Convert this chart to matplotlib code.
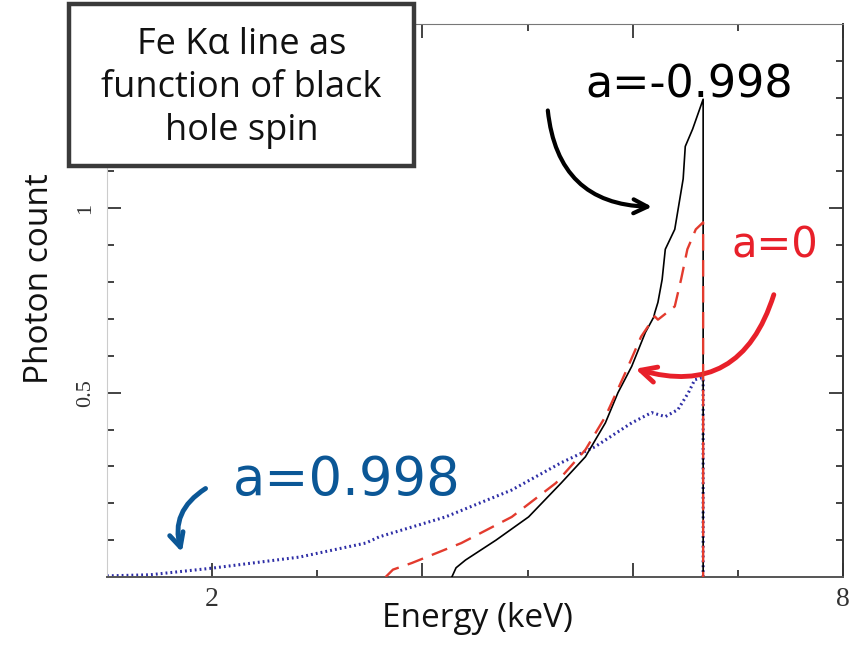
import matplotlib.pyplot as plt
from matplotlib.patches import Rectangle

# a = -0.998 (retrograde), black solid
e_retro = [4.28, 4.32, 4.41, 4.70, 5.01, 5.32, 5.55, 5.74, 5.86, 5.99, 6.12, 6.20, 6.21,
           6.24, 6.28, 6.31, 6.40, 6.48, 6.50, 6.57, 6.67, 6.67]
c_retro = [0.0, 0.025, 0.046, 0.10, 0.163, 0.255, 0.326, 0.418, 0.50, 0.571, 0.663, 0.705, 0.717,
           0.745, 0.807, 0.889, 0.943, 1.08, 1.168, 1.215, 1.296, 0.0]

# a = 0, red dashed
e_zero = [3.65, 3.72, 3.90, 4.37, 4.85, 5.27, 5.55, 5.74, 5.93, 6.08, 6.21, 6.24, 6.40,
          6.46, 6.52, 6.60, 6.67, 6.67]
c_zero = [0.0, 0.02, 0.038, 0.092, 0.163, 0.255, 0.345, 0.435, 0.554, 0.652, 0.707, 0.698, 0.734,
          0.807, 0.889, 0.943, 0.962, 0.0]

# a = 0.998 (maximal prograde), blue dotted
e_max = [1.0, 1.41, 2.0, 2.83, 3.46, 3.59, 4.22, 4.85, 5.32, 5.64, 5.99, 6.18,
         6.31, 6.43, 6.53, 6.59, 6.65, 6.67, 6.67]
c_max = [0.003, 0.006, 0.024, 0.054, 0.092, 0.109, 0.163, 0.236, 0.31, 0.353, 0.418, 0.446,
         0.435, 0.454, 0.50, 0.535, 0.54, 0.54, 0.0]

x_ticks = [2, 4, 6, 8]
x_tick_labels = ['2', '', '', '8']
y_ticks = [0.5, 1.0]
y_tick_labels = ['0.5', '1']

fig = plt.figure(figsize=(8.67, 6.53), dpi=100)
ax = fig.add_axes([0.1234, 0.1164, 0.8489, 0.8468])

ax.plot(e_retro, c_retro, color='black', lw=1.2, zorder=3)
ax.plot(e_zero, c_zero, color='#e33b2e', lw=1.7, linestyle=(0, (7, 4)), zorder=4)
ax.plot(e_max, c_max, color='#2e2ea6', lw=2.2, linestyle=(0, (0.6, 1.0)), zorder=2)

ax.set_xlim(1, 8)
ax.set_ylim(0, 1.5)

ax.set_xticks(x_ticks)
ax.set_xticks([3, 5, 7], minor=True)
ax.set_yticks(y_ticks)
ax.set_yticks([0.1 * i for i in range(1, 15)], minor=True)
ax.tick_params(axis='both', which='major', direction='in', length=10, width=1.2,
               top=True, right=True, color='#222222', labelbottom=False, labelleft=False)
ax.tick_params(axis='both', which='minor', direction='in', length=5, width=1.2,
               top=True, right=True, color='#222222')

# tick labels written next to the axis
for xv, lab in zip(x_ticks, x_tick_labels):
    ax.text(xv, -0.018, lab, transform=ax.get_xaxis_transform(), ha='center', va='top',
            fontsize=20, family='Liberation Serif', color='#333333')
for yv, lab in zip(y_ticks, y_tick_labels):
    ax.text(-0.016, yv, lab, transform=ax.get_yaxis_transform(), ha='right', va='center',
            rotation=90, fontsize=16, family='Liberation Serif', color='#333333')

ax.spines['left'].set_color('#cccccc')
ax.spines['bottom'].set_color('#555555')
ax.spines['bottom'].set_linewidth(1.4)
ax.spines['top'].set_color('#777777')
ax.spines['right'].set_color('#333333')
ax.spines['right'].set_linewidth(1.4)

ax.set_ylabel('Photon count', family='Open Sans', fontsize=24, color='#111111')
ax.yaxis.set_label_coords(-0.069, 0.54)
ax.set_xlabel('Energy (keV)', family='Open Sans', fontsize=24, color='#111111')
ax.xaxis.set_label_coords(0.503, -0.045)

# hand-written style annotations
ax.text(6.54, 1.335, 'a=-0.998', color='black', fontsize=32, ha='center', va='center',
        family='DejaVu Sans')
ax.annotate('', xy=(6.21, 1.004), xytext=(5.19, 1.273),
            arrowprops=dict(arrowstyle='->', lw=3, color='black', mutation_scale=25,
                            connectionstyle='arc3,rad=0.45'))
ax.text(7.35, 0.90, 'a=0', color='#e8202a', fontsize=30, ha='center', va='center',
        family='DejaVu Sans')
ax.annotate('', xy=(6.0, 0.567), xytext=(7.35, 0.773),
            arrowprops=dict(arrowstyle='->', lw=3.5, color='#e8202a', mutation_scale=28,
                            connectionstyle='arc3,rad=-0.5'))
ax.text(3.28, 0.263, 'a=0.998', color='#0b5796', fontsize=38, ha='center', va='center',
        family='DejaVu Sans')
ax.annotate('', xy=(1.72, 0.06), xytext=(1.96, 0.244),
            arrowprops=dict(arrowstyle='->', lw=3.5, color='#0b5796', mutation_scale=25,
                            connectionstyle='arc3,rad=0.4'))

# title box
fig.patches.append(Rectangle((69 / 867, 1 - 166 / 653), 345 / 867, 162 / 653,
                             transform=fig.transFigure, facecolor='white',
                             edgecolor='#3a3a3a', lw=3.2, zorder=10))
fig.text(241.5 / 867, 1 - 88 / 653, 'Fe K\u03b1 line as\nfunction of black\nhole spin',
         ha='center', va='center', fontsize=26, family='Open Sans', linespacing=1.25,
         color='#111111', zorder=11)

fig.savefig('out.png', dpi=100)
